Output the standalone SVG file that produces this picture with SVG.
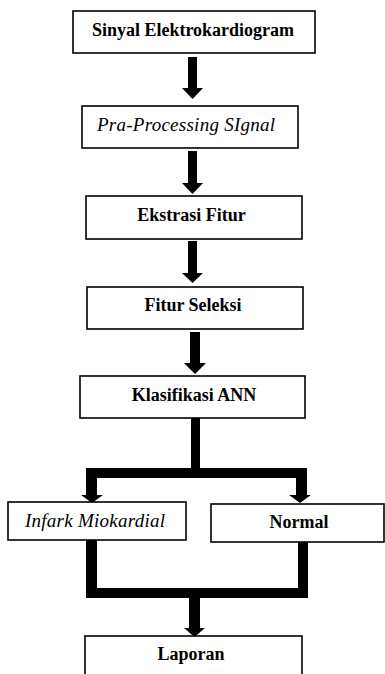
<svg xmlns="http://www.w3.org/2000/svg" width="385" height="674" viewBox="0 0 385 674">
<style>
.box{fill:#fff;stroke:#000;stroke-width:1.6}
.t{font-family:"Liberation Serif","Times New Roman",serif;font-size:18px;font-weight:bold;text-anchor:middle;fill:#000}
.i{font-family:"Liberation Serif","Times New Roman",serif;font-size:19px;font-style:italic;text-anchor:middle;fill:#000}
.c{fill:#000;stroke:none}
</style>
<rect width="385" height="674" fill="#fff"/>
<g id="connectors">
<path class="c" d="M188,57 H197 V88 H203 L192.5,99 L182,88 H188 Z"/>
<path class="c" d="M188,151 H197 V183 H203 L192.5,194 L182,183 H188 Z"/>
<path class="c" d="M188,241 H197 V273 H203 L192.5,283 L182,273 H188 Z"/>
<path class="c" d="M190,332 H200 V363 H206 L195,374 L184,363 H190 Z"/>
<path class="c" d="M191,418 H200 V468 H307 V495 H311 L300,503 L289,495 H296 V478 H97 V495 H103 L92,503 L81,495 H86 V468 H191 Z"/>
<path class="c" d="M86,540 H97 V588 H298 V542 H308 V598 H200 V628 H205 L194.5,637 L184,628 H189 V598 H86 Z"/>
</g>
<g id="n1"><rect class="box" x="73" y="11" width="242" height="42"/><text class="t" x="193" y="36">Sinyal Elektrokardiogram</text></g>
<g id="n2"><rect class="box" x="82" y="106" width="216" height="42"/><text class="i" x="186" y="131" textLength="178" lengthAdjust="spacing">Pra-Processing  SIgnal</text></g>
<g id="n3"><rect class="box" x="86" y="196" width="216" height="43"/><text class="t" x="191.5" y="221">Ekstrasi Fitur</text></g>
<g id="n4"><rect class="box" x="87" y="287" width="216" height="42"/><text class="t" x="193" y="311">Fitur Seleksi</text></g>
<g id="n5"><rect class="box" x="80" y="376" width="225" height="42"/><text class="t" x="194" y="401">Klasifikasi ANN</text></g>
<g id="n6"><rect class="box" x="8" y="502" width="178" height="38"/><text class="i" x="95" y="527" textLength="140" lengthAdjust="spacing">Infark Miokardial</text></g>
<g id="n7"><rect class="box" x="211" y="504" width="173" height="38"/><text class="t" x="299" y="528">Normal</text></g>
<g id="n8"><rect class="box" x="85" y="636" width="217" height="50"/><text class="t" x="191" y="660">Laporan</text></g>
</svg>
